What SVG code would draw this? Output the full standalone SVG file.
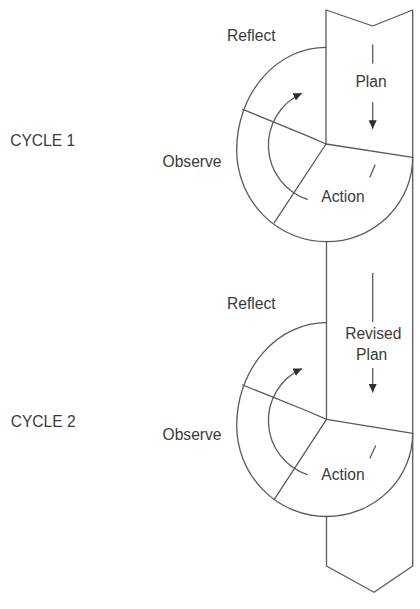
<svg xmlns="http://www.w3.org/2000/svg" width="420" height="609" viewBox="0 0 420 609">
<defs>
<style>
.ln{fill:none;stroke:#5a5a5a;stroke-width:1.3;stroke-linejoin:round;stroke-linecap:round}
.t{font-family:"Liberation Sans",Arial,sans-serif;font-size:15.6px;fill:#3a3a3a;text-anchor:middle}
</style>
<marker id="ah" markerUnits="userSpaceOnUse" markerWidth="9" markerHeight="8" refX="8" refY="4" orient="auto">
<path d="M0,0 L8.5,4 L0,8 z" fill="#2e2e2e"/>
</marker>
</defs>
<rect width="420" height="609" fill="#fff"/>
<g id="strip" class="ln">
<path d="M326,144 L326,10 L372.7,26 L412.7,10 L412.7,566 L374,592.3 L326.5,566 L326.5,516.5"/>
<path d="M326.5,241.7 L326.5,419.3"/>
</g>
<g id="cycle1">
<path class="ln" d="M326,47.3 A89.3,102.7 0 0 0 236.7,150 A89.8,91.7 0 0 0 326.5,241.7 A86.2,84.4 0 0 0 412.7,157.3"/>
<path class="ln" d="M326,144 L308,136.2 L242.7,109.3"/>
<path class="ln" d="M326,144 L274.3,222.7"/>
<path class="ln" d="M326,144 L412.7,157.3"/>
<path class="ln" d="M370,177 L375,165"/>
<text class="t" x="251.3" y="41">Reflect</text>
<text class="t" x="371" y="87">Plan</text>
<text class="t" x="192" y="166.7">Observe</text>
<text class="t" x="343" y="202">Action</text>
</g>
<g id="cycle2">
<path class="ln" d="M326.5,322.7 A89.8,102.7 0 0 0 236.7,425.5 A89.8,91 0 0 0 326.5,516.5 A86.2,83.2 0 0 0 412.7,433.3"/>
<path class="ln" d="M326.5,419.3 L308.5,411.5 L242.7,385"/>
<path class="ln" d="M326.5,419.3 L274.3,499.3"/>
<path class="ln" d="M326.5,419.3 L412.7,433.3"/>
<path class="ln" d="M370,458 L375.5,446"/>
<text class="t" x="251.3" y="309">Reflect</text>
<text class="t" x="373.3" y="339.3">Revised</text>
<text class="t" x="371.7" y="359.5">Plan</text>
<text class="t" x="192" y="440">Observe</text>
<text class="t" x="343" y="480">Action</text>
</g>
<g id="cycle-labels">
<text class="t" x="42.7" y="146">CYCLE 1</text>
<text class="t" x="43.2" y="427.3">CYCLE 2</text>
</g>
<g id="connectors">
<path class="ln" d="M372.7,45 L372.7,63"/>
<path class="ln" d="M372.7,102.7 L372.7,128.3" marker-end="url(#ah)"/>
<path class="ln" d="M307.3,199.3 A57,57 0 0 1 301.5,93.5" marker-end="url(#ah)"/>
<path class="ln" d="M372.7,273.3 L372.7,321.7"/>
<path class="ln" d="M372.7,368.3 L372.7,392" marker-end="url(#ah)"/>
<path class="ln" d="M307.3,474.6 A57,57 0 0 1 301.5,368.8" marker-end="url(#ah)"/>
</g>
</svg>
